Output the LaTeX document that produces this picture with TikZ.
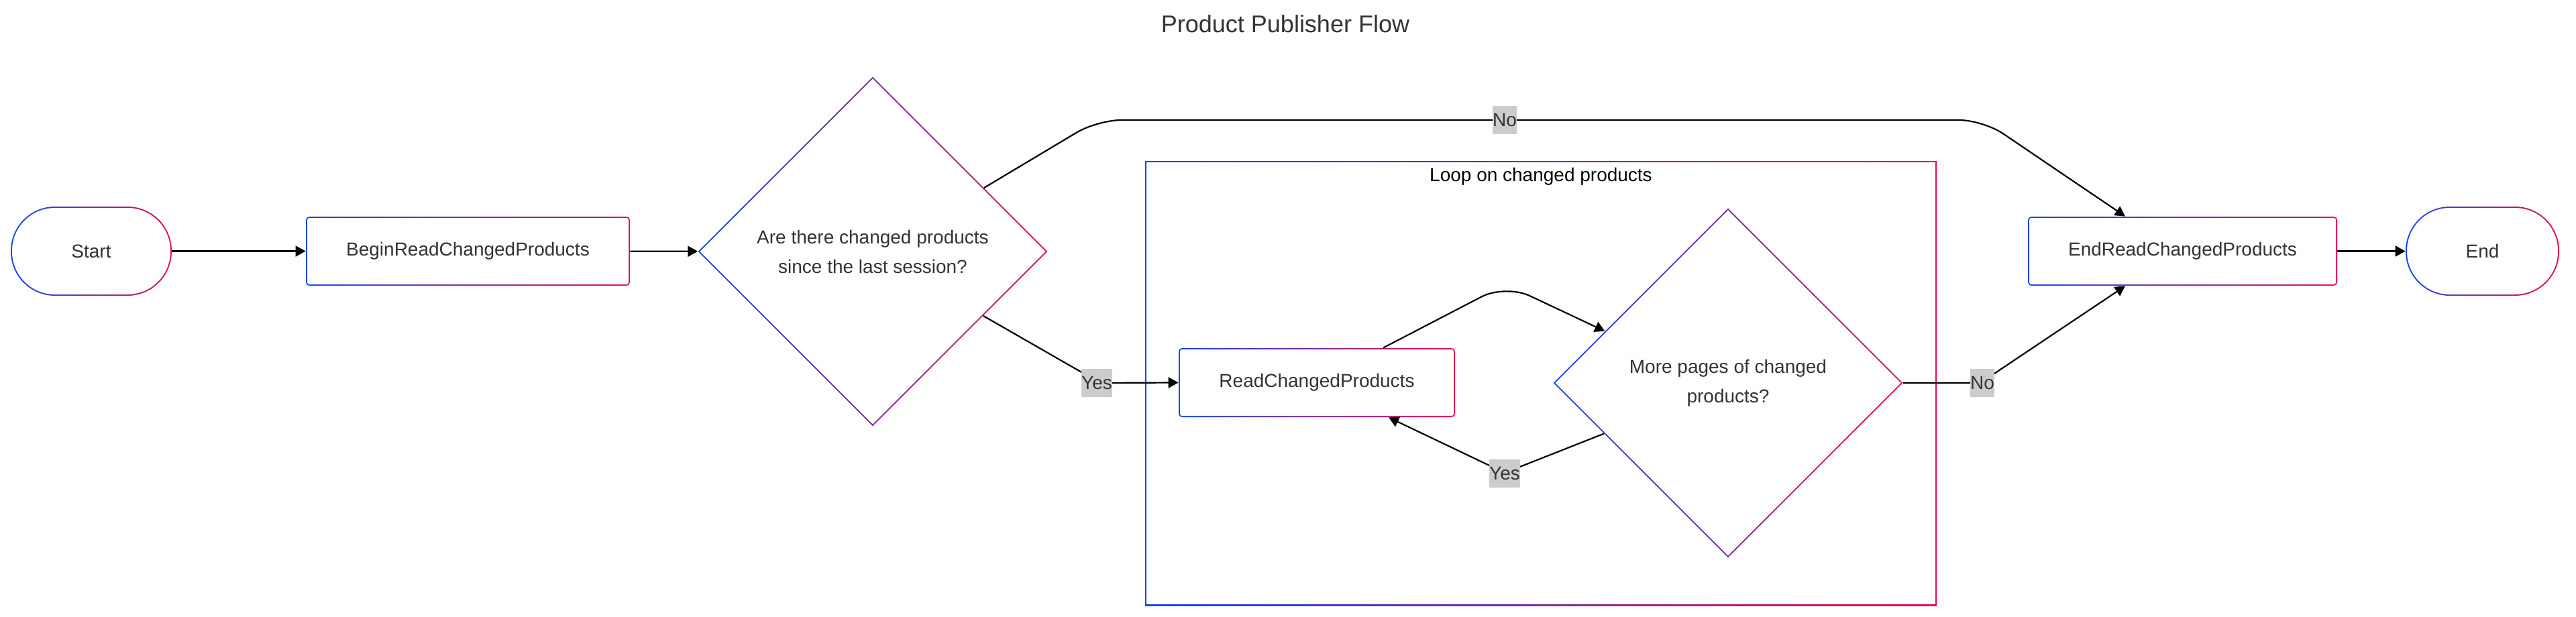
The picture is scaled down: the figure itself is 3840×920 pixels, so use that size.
\documentclass[tikz,border=0pt]{standalone}
\usepackage{fontspec}
\setmainfont{Liberation Sans}
\usetikzlibrary{arrows.meta,shapes.geometric,calc}
\definecolor{gblue}{RGB}{20,70,245}
\definecolor{gred}{RGB}{235,10,75}
\definecolor{txt}{HTML}{333333}
\definecolor{lblgray}{HTML}{CCCCCC}
\newcommand\mynodefont{\fontsize{14pt}{22pt}\selectfont}
\newcommand\mytitlefont{\fontsize{18pt}{22pt}\selectfont}
\tikzset{
  gradbox/.style 2 args={rectangle, rounded corners=#1, inner sep=0pt, text=txt, font=\mynodefont,
    path picture={
      \shade[left color=gblue,right color=gred] (path picture bounding box.south west) rectangle (path picture bounding box.north east);
      \fill[white, rounded corners=#2] ([shift={(1pt,1pt)}]path picture bounding box.south west) rectangle ([shift={(-1pt,-1pt)}]path picture bounding box.north east);}},
  gradiamond/.style={diamond, aspect=1, inner sep=0pt, minimum width=#1, minimum height=#1, text=txt, align=center, font=\mynodefont,
    path picture={
      \shade[left color=gblue,right color=gred] (path picture bounding box.south west) rectangle (path picture bounding box.north east);
      \fill[white] ([xshift=1.35pt]path picture bounding box.west) -- ([yshift=-1.35pt]path picture bounding box.north) -- ([xshift=-1.35pt]path picture bounding box.east) -- ([yshift=1.35pt]path picture bounding box.south) -- cycle;}},
  conn/.style={draw=black, line width=1.1pt, -{Triangle[length=7.5pt,width=8pt]}},
  edgelbl/.style={fill=lblgray, text=txt, font=\mynodefont, inner xsep=0pt, inner ysep=0pt, minimum height=21pt},
}
\begin{document}
\begin{tikzpicture}[x=0.5pt,y=-0.5pt]
\useasboundingbox (0,0) rectangle (3840,920);
\fill[white] (0,0) rectangle (3840,920);

\node[font=\mytitlefont, text=txt] (title) at (1916,36) {Product Publisher Flow};

% cluster
\node[gradbox={0pt}{0pt}, minimum width=590pt, minimum height=331.5pt] (loop) at (2297,571.5) {};
\node[font=\mynodefont, text=black] (looplbl) at (2297,263) {Loop on changed products};

% nodes
\node[gradbox={33pt}{32pt}, minimum width=120pt, minimum height=66.5pt] (start) at (136,374.5) {Start};
\node[gradbox={2.5pt}{1.5pt}, minimum width=241.5pt, minimum height=51.5pt] (begin) at (697.5,374.5) {BeginReadChangedProducts};
\node[gradiamond=260.5pt] (d1) at (1301,375) {Are there changed products\\since the last session?};
\node[gradbox={2.5pt}{1.5pt}, minimum width=206pt, minimum height=51.5pt] (read) at (1963,570.5) {ReadChangedProducts};
\node[gradiamond=260.5pt] (d2) at (2576,571) {More pages of changed\\products?};
\node[gradbox={2.5pt}{1.5pt}, minimum width=230.5pt, minimum height=51.5pt] (endread) at (3253.5,374.5) {EndReadChangedProducts};
\node[gradbox={33pt}{32pt}, minimum width=114.5pt, minimum height=66.5pt] (end) at (3700.5,374.5) {End};

% helper coordinates
\coordinate (d1no) at ($(d1.north)!0.636!(d1.east)$);
\coordinate (c1) at (1636,179);
\coordinate (c2) at (2956,179);
\coordinate (ertop) at ([xshift=-42.75pt]endread.north);
\coordinate (d1yes) at ($(d1.east)!0.368!(d1.south)$);
\coordinate (c3) at (1640,571);
\coordinate (rtop) at ([xshift=49.5pt]read.north);
\coordinate (c4) at (2244,424);
\coordinate (d2in) at ($(d2.west)!0.296!(d2.north)$);
\coordinate (d2yes) at ($(d2.west)!0.29!(d2.south)$);
\coordinate (c5) at (2243,705);
\coordinate (rbot) at ([xshift=53.5pt]read.south);
\coordinate (c6) at (2952,571);
\coordinate (erbot) at ([xshift=-42.75pt]endread.south);

% connectors
\draw[conn] (start) -- (begin);
\draw[conn] (begin) -- (d1);
\draw[conn, rounded corners=18pt] (d1no) -- (c1) -- (c2) -- (ertop);
\draw[conn, rounded corners=8pt] (d1yes) -- (c3) -- (read.west);
\draw[conn, rounded corners=20pt] (rtop) -- (c4) -- (d2in);
\draw[conn] (d2yes) -- (c5) -- (rbot);
\draw[conn] (d2.east) -- (c6) -- (erbot);
\draw[conn] (endread) -- (end);

% edge labels
\node[edgelbl] (lno1) at (2243,179) {No};
\node[edgelbl] (lyes1) at (1635,571) {Yes};
\node[edgelbl] (lyes2) at (2243,705.5) {Yes};
\node[edgelbl] (lno2) at (2955,571) {No};
\end{tikzpicture}
\end{document}
